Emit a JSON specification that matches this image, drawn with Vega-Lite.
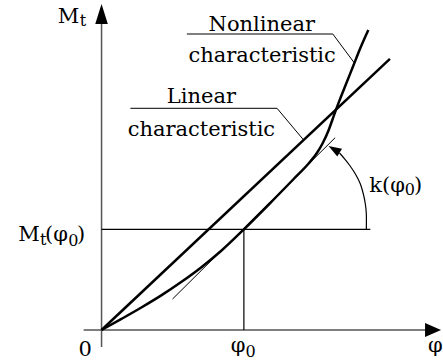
{
  "$schema": "https://vega.github.io/schema/vega-lite/v6.json",
  "width": 443,
  "height": 361,
  "padding": 0,
  "autosize": {"type": "fit", "contains": "padding"},
  "background": "white",
  "config": {"view": {"stroke": null}},
  "datasets": {
    "axes": [
      {"x": 0, "y": -17, "x2": 0, "y2": 310},
      {"x": -18, "y": 0, "x2": 328, "y2": 0}
    ],
    "linear": [
      {"x": 0, "y": 0, "x2": 289.7, "y2": 271.2}
    ],
    "guides": [
      {"x": 0, "y": 100.7, "x2": 270, "y2": 100.7},
      {"x": 143, "y": 0, "x2": 143, "y2": 100.7}
    ],
    "thin": [
      {"x": 71.3, "y": 31, "x2": 234.7, "y2": 192.3},
      {"x": 85.7, "y": 296, "x2": 232.3, "y2": 296},
      {"x": 232.3, "y": 296, "x2": 254, "y2": 267},
      {"x": 29, "y": 221.7, "x2": 176.3, "y2": 221.7},
      {"x": 176.3, "y": 221.7, "x2": 203, "y2": 190}
    ],
    "nonlinear": [
      {"x": 0, "y": 0}, {"x": 20, "y": 11.1}, {"x": 40, "y": 22.5}, {"x": 60, "y": 34.6},
      {"x": 80, "y": 47.9}, {"x": 100, "y": 62.5}, {"x": 120, "y": 79}, {"x": 143, "y": 100.7},
      {"x": 168, "y": 125.5}, {"x": 193, "y": 151}, {"x": 208, "y": 166.5}, {"x": 216, "y": 176.5},
      {"x": 222, "y": 186.5}, {"x": 228, "y": 199.5}, {"x": 232, "y": 210.5}, {"x": 235, "y": 219},
      {"x": 240, "y": 232}, {"x": 246, "y": 247}, {"x": 253, "y": 264.5}, {"x": 260, "y": 282},
      {"x": 268, "y": 300}
    ],
    "arc": [
      {"i": 0, "x": 266, "y": 101}, {"i": 1, "x": 266, "y": 116}, {"i": 2, "x": 265, "y": 126},
      {"i": 3, "x": 263, "y": 136}, {"i": 4, "x": 260, "y": 146}, {"i": 5, "x": 255, "y": 156},
      {"i": 6, "x": 249, "y": 165}, {"i": 7, "x": 243, "y": 172.5}, {"i": 8, "x": 239, "y": 177}
    ],
    "yArrow": [{"x": 0, "y": 316}],
    "xArrow": [{"x": 333, "y": 0}],
    "arcArrow": [{"x": 233.6, "y": 180.7}],
    "textCenter": [
      {"x": 161, "y": 299.3, "t": "Nonlinear"},
      {"x": 161.3, "y": 268.3, "t": "characteristic"},
      {"x": 100.3, "y": 226.7, "t": "Linear"},
      {"x": 100.3, "y": 193.8, "t": "characteristic"},
      {"x": -16.5, "y": -26, "t": "0"}
    ],
    "textRight": [
      {"x": -22.5, "y": 307.3, "t": "M"},
      {"x": -62, "y": 89, "t": "M"},
      {"x": -33.7, "y": 89, "t": "(φ"},
      {"x": 304.7, "y": 138.3, "t": "k(φ"},
      {"x": 144.7, "y": -22, "t": "φ"}
    ],
    "textLeft": [
      {"x": -24.7, "y": 89, "t": ")"},
      {"x": 314, "y": 138.3, "t": ")"},
      {"x": 328, "y": -22, "t": "φ"}
    ],
    "textSub": [
      {"x": -22, "y": 304, "t": "t"},
      {"x": -61.7, "y": 85.5, "t": "t"},
      {"x": -33.5, "y": 84.5, "t": "0"},
      {"x": 304.7, "y": 135, "t": "0"},
      {"x": 144.7, "y": -27.3, "t": "0"}
    ]
  },
  "encoding": {
    "x": {"field": "x", "type": "quantitative", "scale": {"domain": [-102, 341], "nice": false, "zero": false}, "axis": null},
    "y": {"field": "y", "type": "quantitative", "scale": {"domain": [-31, 330], "nice": false, "zero": false}, "axis": null}
  },
  "layer": [
    {"data": {"name": "axes"}, "mark": {"type": "rule", "color": "#555555", "strokeWidth": 1.5},
     "encoding": {"x2": {"field": "x2"}, "y2": {"field": "y2"}}},
    {"data": {"name": "guides"}, "mark": {"type": "rule", "color": "black", "strokeWidth": 1.2},
     "encoding": {"x2": {"field": "x2"}, "y2": {"field": "y2"}}},
    {"data": {"name": "thin"}, "mark": {"type": "rule", "color": "black", "strokeWidth": 1},
     "encoding": {"x2": {"field": "x2"}, "y2": {"field": "y2"}}},
    {"data": {"name": "linear"}, "mark": {"type": "rule", "color": "black", "strokeWidth": 2.5, "strokeCap": "butt"},
     "encoding": {"x2": {"field": "x2"}, "y2": {"field": "y2"}}},
    {"data": {"name": "nonlinear"}, "mark": {"type": "line", "color": "black", "strokeWidth": 2.5, "interpolate": "monotone"},
     "encoding": {}},
    {"data": {"name": "arc"}, "mark": {"type": "line", "color": "black", "strokeWidth": 1.2, "interpolate": "cardinal"},
     "encoding": {"order": {"field": "i", "type": "quantitative"}}},
    {"data": {"name": "yArrow"}, "mark": {"type": "point", "shape": "M0,-1L0.63,1L-0.63,1Z", "size": 400, "filled": true, "color": "black", "opacity": 1, "strokeWidth": 0}},
    {"data": {"name": "xArrow"}, "mark": {"type": "point", "shape": "M1,0L-1,0.875L-1,-0.875Z", "size": 256, "filled": true, "color": "black", "opacity": 1, "strokeWidth": 0}},
    {"data": {"name": "arcArrow"}, "mark": {"type": "point", "shape": "M0,-1L0.7,1L-0.7,1Z", "size": 169, "angle": 301, "filled": true, "color": "black", "opacity": 1, "strokeWidth": 0}},
    {"data": {"name": "textCenter"}, "mark": {"type": "text", "font": "DejaVu Serif", "fontSize": 21, "align": "center", "baseline": "alphabetic", "color": "black"},
     "encoding": {"text": {"field": "t"}}},
    {"data": {"name": "textRight"}, "mark": {"type": "text", "font": "DejaVu Serif", "fontSize": 21, "align": "right", "baseline": "alphabetic", "color": "black"},
     "encoding": {"text": {"field": "t"}}},
    {"data": {"name": "textLeft"}, "mark": {"type": "text", "font": "DejaVu Serif", "fontSize": 21, "align": "left", "baseline": "alphabetic", "color": "black"},
     "encoding": {"text": {"field": "t"}}},
    {"data": {"name": "textSub"}, "mark": {"type": "text", "font": "DejaVu Serif", "fontSize": 16, "align": "left", "baseline": "alphabetic", "color": "black"},
     "encoding": {"text": {"field": "t"}}}
  ]
}
